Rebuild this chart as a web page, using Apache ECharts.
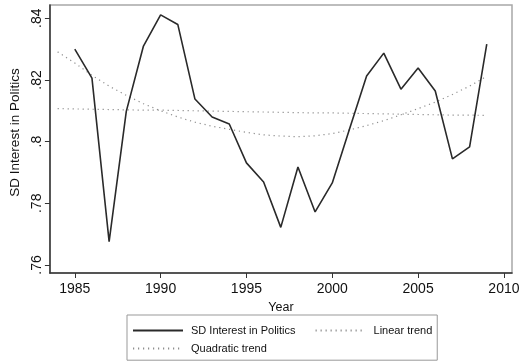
<!DOCTYPE html>
<html>
<head>
<meta charset="utf-8">
<script src="https://cdn.jsdelivr.net/npm/echarts@6/dist/echarts.min.js"></script>
<style>html,body{margin:0;padding:0;background:#fff}#c{width:523px;height:363px}</style>
</head>
<body>
<div id="c"></div>
<script>
// ---- data ----
var years = [1985,1986,1987,1988,1989,1990,1991,1992,1993,1994,1995,1996,1997,1998,1999,2000,2001,2002,2003,2004,2005,2006,2007,2008,2009];
var sdInterest = [0.830,0.8206,0.7676,0.8098,0.8310,0.8411,0.8380,0.8138,0.8080,0.8057,0.7931,0.7869,0.7722,0.7918,0.7772,0.7866,0.8040,0.8213,0.8287,0.8170,0.8239,0.8164,0.7944,0.7983,0.8316];
var trendYears = [1984,1985,1986,1987,1988,1989,1990,1991,1992,1993,1994,1995,1996,1997,1998,1999,2000,2001,2002,2003,2004,2005,2006,2007,2008,2009];
var linearTrend = [0.8107,0.8106,0.8105,0.8104,0.8103,0.8102,0.8102,0.8101,0.8100,0.8099,0.8098,0.8097,0.8096,0.8095,0.8094,0.8093,0.8093,0.8092,0.8091,0.8090,0.8089,0.8088,0.8087,0.8086,0.8086,0.8085];
var quadraticTrend = [0.8291,0.8255,0.8215,0.8180,0.8150,0.8123,0.8100,0.8080,0.8063,0.8050,0.8040,0.8030,0.8022,0.8018,0.8016,0.8019,0.8026,0.8038,0.8052,0.8068,0.8087,0.8107,0.8128,0.8153,0.8180,0.8212];
var xTicks = [1985,1990,1995,2000,2005,2010];
var yTicks = [0.76,0.78,0.80,0.82,0.84];
var yTickLabels = ['.76','.78','.8','.82','.84'];
var seriesNames = ['SD Interest in Politics','Linear trend','Quadratic trend'];
var xName = 'Year';
var yName = 'SD Interest in Politics';

function pairs(xs, ys){ return xs.map(function(x,i){ return [x, ys[i]]; }); }

var font = 'Liberation Sans, Arial, Helvetica, sans-serif';
var chart = echarts.init(document.getElementById('c'), null, {renderer:'canvas'});
var legendText = {fontFamily:font, fontSize:11, color:'#111', padding:[0,0,0,3]};
chart.setOption({
  animation:false,
  backgroundColor:'#fff',
  grid:{left:49, top:5, right:11, bottom:90, show:true, borderColor:'#a8a8a8', borderWidth:1.5, backgroundColor:'#fff'},
  xAxis:{
    type:'value', min:1983.55, max:2010.47,
    name:xName, nameLocation:'middle', nameGap:23,
    nameTextStyle:{fontFamily:font, fontSize:12.5, color:'#111'},
    axisLine:{show:true, onZero:false, lineStyle:{color:'#333', width:1.5}},
    axisTick:{show:true, length:5, customValues:xTicks, lineStyle:{color:'#333', width:1}},
    axisLabel:{customValues:xTicks, margin:9, fontFamily:font, fontSize:14, color:'#111', formatter:function(v){return String(v);}},
    splitLine:{show:false}
  },
  yAxis:{
    type:'value', min:0.7574, max:0.8443,
    name:yName, nameLocation:'middle', nameGap:24, nameRotate:90,
    nameTextStyle:{fontFamily:font, fontSize:13.5, color:'#111', padding:[0,0,0,13]},
    axisLine:{show:true, onZero:false, lineStyle:{color:'#333', width:1.5}},
    axisTick:{show:true, length:5, customValues:yTicks, lineStyle:{color:'#333', width:1}},
    axisLabel:{customValues:yTicks, rotate:90, margin:6, fontFamily:font, fontSize:14, color:'#111',
      formatter:function(v){ for(var i=0;i<yTicks.length;i++){ if(Math.abs(v-yTicks[i])<1e-6) return yTickLabels[i]; } return ''; }},
    splitLine:{show:false}
  },
  legend:[{
    data:[seriesNames[0], seriesNames[1]],
    left:127, top:315, orient:'horizontal',
    padding:[10,5,24,5], itemGap:19, itemWidth:50, itemHeight:14,
    borderColor:'#999', borderWidth:1,
    itemStyle:{opacity:0},
    textStyle:legendText
  },{
    data:[seriesNames[2]],
    left:127, top:343, orient:'horizontal',
    padding:[0,5,0,5], itemWidth:50, itemHeight:14,
    itemStyle:{opacity:0},
    textStyle:legendText
  }],
  series:[
    {name:seriesNames[0], type:'line', data:pairs(years, sdInterest), symbol:'none', showSymbol:false,
     lineStyle:{color:'#2a2a2a', width:1.6}, itemStyle:{color:'#2a2a2a'}, z:3},
    {name:seriesNames[1], type:'line', data:pairs(trendYears, linearTrend), symbol:'none', showSymbol:false,
     lineStyle:{color:'#8f8f8f', width:1.2, type:[1.2,3.8]}, itemStyle:{color:'#8f8f8f'}, z:2},
    {name:seriesNames[2], type:'line', data:pairs(trendYears, quadraticTrend), symbol:'none', showSymbol:false,
     lineStyle:{color:'#8f8f8f', width:1.2, type:[1.2,3.8]}, itemStyle:{color:'#8f8f8f'}, z:2}
  ]
});
</script>
</body>
</html>
